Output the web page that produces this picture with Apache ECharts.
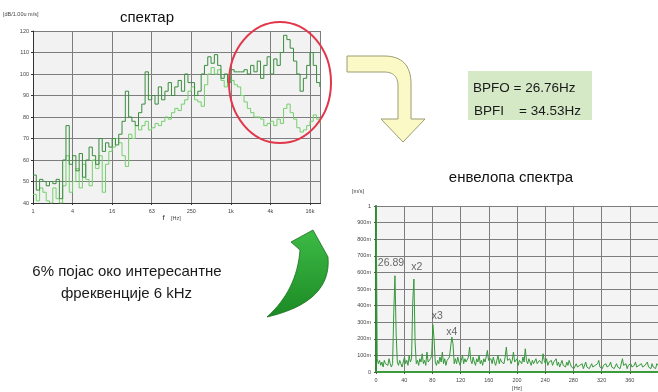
<!DOCTYPE html>
<html>
<head>
<meta charset="utf-8">
<script src="https://cdn.jsdelivr.net/npm/echarts@6/dist/echarts.min.js"></script>
<style>
  html, body { margin: 0; padding: 0; background: #ffffff; }
  #c { width: 658px; height: 392px; }
</style>
</head>
<body>
<div id="c"></div>
<script>
// ---- Spectrum (1/6-octave bands from 1 Hz), level in dB re 1 µm/s ----
const bandsPerOctave = 6;
const spectrumDark = [
  53, 46, 51, 50, 48, 50, 49, 51, 42, 60, 76, 58,
  62, 55, 63, 52, 60, 66, 62, 58, 70, 64, 68, 66,
  70, 67, 72, 78, 92, 80, 78, 76, 82, 86, 101, 88,
  90, 86, 94, 88, 92, 96, 90, 94, 97, 92, 100, 96,
  96, 90, 92, 100, 104, 108, 105, 109, 104, 98, 100, 96,
  102, 101, 101, 101, 102, 100, 104, 101, 106, 98, 104, 108,
  100, 107, 104, 110, 118, 116, 112, 106, 100, 92, 98, 104, 110, 104, 96, 94
];
const spectrumLight = [
  44, 41, 47, 45, 41, 40, 47, 42, 40, 48, 62, 45,
  50, 56, 47, 58, 51, 48, 60, 56, 62, 45, 58, 64,
  66, 70, 68, 62, 57, 72, 70, 76, 74, 76, 78, 74,
  75, 77, 76, 78, 80, 79, 82, 84, 83, 86, 88, 92,
  94, 88, 87, 85, 95, 100, 103, 100, 102, 97, 94, 98,
  97, 95, 94, 90, 87, 84, 82, 80, 80, 79, 76, 77,
  78, 76, 79, 77, 84, 86, 82, 79, 75, 73, 74, 76, 78, 81, 79, 77
];
const spectrumTickLabels = ['1', '4', '16', '63', '250', '1k', '4k', '16k'];

// ---- Envelope spectrum, amplitude in m/s, bins of 26.89/16 Hz ----
const envelopeResolution = 26.89 / 16;
const envelopeValues = [
  1.2,
  0.08, 0.05, 0.07, 0.04, 0.06, 0.03, 0.07, 0.05, 0.06, 0.04, 0.08, 0.05, 0.03, 0.05,
  0.36, 0.58, 0.23, 0.06,
  0.04, 0.07, 0.05, 0.03, 0.06, 0.09, 0.05, 0.07, 0.04, 0.10, 0.06, 0.08,
  0.42, 0.56, 0.18, 0.05,
  0.07, 0.04, 0.08, 0.06, 0.11, 0.05, 0.07, 0.04, 0.12, 0.06, 0.05, 0.08,
  0.10, 0.285, 0.20, 0.06,
  0.04, 0.07, 0.05, 0.09, 0.06, 0.12, 0.05, 0.08, 0.04, 0.07, 0.06, 0.09,
  0.08, 0.21, 0.17, 0.05,
  0.08, 0.05, 0.09, 0.06, 0.04, 0.07, 0.10, 0.05, 0.08, 0.06, 0.07, 0.09, 0.15, 0.07,
  0.05, 0.09, 0.06, 0.04, 0.08, 0.06, 0.10, 0.05, 0.07, 0.04, 0.08, 0.06, 0.09, 0.13, 0.07,
  0.06, 0.08, 0.05, 0.09, 0.06, 0.04, 0.07, 0.10, 0.05, 0.08, 0.06, 0.07, 0.05, 0.09, 0.15, 0.07, 0.06,
  0.08, 0.05, 0.07, 0.12, 0.06, 0.05, 0.08, 0.04, 0.07, 0.06, 0.05, 0.09, 0.06, 0.14,
  0.07, 0.05, 0.08, 0.06, 0.04, 0.07, 0.05, 0.06, 0.08, 0.05, 0.04, 0.07, 0.06, 0.05, 0.11, 0.07, 0.05, 0.08, 0.04,
  0.06, 0.05, 0.07, 0.04, 0.06, 0.05, 0.08, 0.04, 0.06, 0.03, 0.05, 0.07, 0.04, 0.05, 0.03, 0.06, 0.04, 0.07, 0.05, 0.03,
  0.04, 0.02, 0.03, 0.05, 0.03, 0.02, 0.04, 0.03, 0.05, 0.02, 0.03, 0.06, 0.03, 0.04, 0.02, 0.03, 0.05, 0.03, 0.02, 0.04,
  0.03, 0.05, 0.07, 0.03, 0.04, 0.02, 0.04, 0.03, 0.05, 0.03, 0.02, 0.04, 0.06, 0.03, 0.04, 0.02, 0.03, 0.05, 0.03, 0.04,
  0.02, 0.03, 0.08, 0.04, 0.03, 0.05, 0.02, 0.04, 0.03, 0.05, 0.03, 0.02, 0.04, 0.06, 0.03, 0.02, 0.04, 0.03, 0.05, 0.03,
  0.02, 0.04, 0.03, 0.06, 0.03, 0.04, 0.02, 0.05, 0.03, 0.04, 0.02, 0.05, 0.04
];
const envelopeTickLabels = ['0', '100m', '200m', '300m', '400m', '500m', '600m', '700m', '800m', '900m', '1'];
const harmonicFreqs = [26.89, 53.78, 80.67, 107.56];
const harmonicLabels = ['26.89', 'x2', 'x3', 'x4'];

const FONT = "'Liberation Sans', Arial, sans-serif";

const darkPts = spectrumDark.map((v, k) => [Math.pow(2, k / bandsPerOctave), v]);
const lightPts = spectrumLight.map((v, k) => [Math.pow(2, k / bandsPerOctave), v]);
const envPts = envelopeValues.map((v, i) => [i * envelopeResolution, v]);
const labelOffsets = [[-4, -7], [3, -6], [4.5, -3], [0, 0]];
const harmonicPts = harmonicFreqs.map((f, j) => ({
  name: harmonicLabels[j],
  value: [f, envelopeValues[Math.round(f / envelopeResolution)]],
  label: { offset: labelOffsets[j] }
}));

// Outline builder for the decorative arrows: straight segments and
// quadratic curves flattened into polygon points.
function outline(cmds) {
  const pts = [];
  let cur = null;
  cmds.forEach(c => {
    if (c.length === 2) { pts.push(c); cur = c; }
    else {
      const [cx, cy, x, y] = c;
      for (let i = 1; i <= 16; i++) {
        const t = i / 16, u = 1 - t;
        pts.push([u * u * cur[0] + 2 * u * t * cx + t * t * x,
                  u * u * cur[1] + 2 * u * t * cy + t * t * y]);
      }
      cur = [x, y];
    }
  });
  return pts;
}
const yellowArrow = outline([
  [347, 56], [384, 56], [411, 56, 411, 84], [411, 119], [425, 119], [403, 142],
  [381, 119], [398, 119], [398, 86], [398, 72, 384, 72], [347, 72]
]);
const greenArrow = outline([
  [313, 230], [328, 257], [332, 302, 267, 317], [297, 290, 300, 250], [291, 242]
]);

const tinyLabel = { fontSize: 5.5, color: '#444', fontFamily: FONT };
const gridLine = { show: true, lineStyle: { color: '#7d7d7d', width: 1 } };

const chart = echarts.init(document.getElementById('c'), null, { renderer: 'canvas' });

function txt(x, y, text, size, color, align) {
  return {
    type: 'text', x: x, y: y, z: 50,
    style: {
      text: text, font: size + 'px ' + FONT, fill: color,
      textAlign: align, textVerticalAlign: 'middle'
    }
  };
}

const option = {
  animation: false,
  backgroundColor: '#ffffff',
  grid: [
    { left: 33, top: 31, width: 287.5, height: 172, show: true, backgroundColor: '#f2f2f2', borderWidth: 0 },
    { left: 376, top: 206, width: 285, height: 166, show: true, backgroundColor: '#f4f4f4', borderWidth: 0 }
  ],
  xAxis: [
    {
      gridIndex: 0, type: 'log', logBase: 4, min: 1, max: 23700,
      axisLine: { lineStyle: { color: '#333', width: 1 } },
      axisTick: { show: true, length: 2, lineStyle: { color: '#333' } },
      axisLabel: Object.assign({}, tinyLabel, {
        margin: 5, showMaxLabel: false,
        formatter: v => spectrumTickLabels[Math.round(Math.log(v) / Math.log(4))] || ''
      }),
      splitLine: gridLine
    },
    {
      gridIndex: 1, type: 'value', min: 0, max: 400, interval: 40,
      axisLine: { lineStyle: { color: '#3c9c3c', width: 2 } },
      axisTick: { show: true, length: 2, lineStyle: { color: '#555' } },
      axisLabel: Object.assign({}, tinyLabel, { margin: 5, showMaxLabel: false }),
      splitLine: gridLine
    }
  ],
  yAxis: [
    {
      gridIndex: 0, type: 'value', min: 40, max: 120, interval: 10,
      axisLine: { show: true, lineStyle: { color: '#333', width: 1 } },
      axisTick: { show: true, length: 2, lineStyle: { color: '#333' } },
      axisLabel: Object.assign({}, tinyLabel, { margin: 4 }),
      splitLine: gridLine
    },
    {
      gridIndex: 1, type: 'value', min: 0, max: 1, interval: 0.1,
      axisLine: { show: true, lineStyle: { color: '#2f8a35', width: 2 } },
      axisTick: { show: true, length: 2, lineStyle: { color: '#555' } },
      axisLabel: Object.assign({}, tinyLabel, {
        margin: 5,
        formatter: v => envelopeTickLabels[Math.round(v * 10)]
      }),
      splitLine: gridLine
    }
  ],
  series: [
    {
      type: 'line', xAxisIndex: 0, yAxisIndex: 0, step: 'end', data: lightPts,
      symbol: 'none', clip: true,
      lineStyle: { color: '#74d06c', width: 1 }
    },
    {
      type: 'line', xAxisIndex: 0, yAxisIndex: 0, step: 'end', data: darkPts,
      symbol: 'none', clip: true,
      lineStyle: { color: '#3a8c3e', width: 1 }
    },
    {
      type: 'line', xAxisIndex: 1, yAxisIndex: 1, data: envPts,
      symbol: 'none', clip: true,
      lineStyle: { color: '#35983a', width: 1 }
    },
    {
      type: 'scatter', xAxisIndex: 1, yAxisIndex: 1, data: harmonicPts,
      symbolSize: 0, silent: true,
      label: {
        show: true, position: 'top', distance: 0,
        formatter: p => p.name,
        fontSize: 10.5, color: '#444', fontFamily: FONT
      }
    }
  ],
  graphic: [
    // highlighted high-frequency region
    {
      type: 'ellipse', z: 60,
      shape: { cx: 280, cy: 82.5, rx: 51, ry: 60.5 },
      style: { fill: 'none', stroke: '#e2364a', lineWidth: 2 }
    },
    // bent arrow towards the envelope spectrum
    {
      type: 'polygon', z: 40,
      shape: { points: yellowArrow },
      style: { fill: '#fbf9c6', stroke: '#9c9c74', lineWidth: 1 }
    },
    // curved green arrow pointing back at the spectrum
    {
      type: 'polygon', z: 40,
      shape: { points: greenArrow },
      style: {
        fill: {
          type: 'linear', x: 0, y: 0, x2: 0, y2: 1,
          colorStops: [
            { offset: 0, color: '#3dbb46' },
            { offset: 1, color: '#1c8a24' }
          ]
        },
        stroke: '#1b6e1f', lineWidth: 0.8
      }
    },
    // bearing fault frequencies
    {
      type: 'rect', z: 40,
      shape: { x: 468, y: 71, width: 124, height: 49 },
      style: { fill: '#d5e9c7' }
    },
    txt(473, 88, 'BPFO = 26.76Hz', 13.5, '#1a1a1a', 'left'),
    txt(474, 111, 'BPFI    = 34.53Hz', 13.5, '#1a1a1a', 'left'),
    // titles and captions
    txt(147, 18, 'спектар', 15, '#111', 'center'),
    txt(511, 178, 'енвелопа спектра', 15, '#111', 'center'),
    txt(127, 272, '6% појас око интересантне', 15, '#1a1a1a', 'center'),
    txt(126.5, 294, 'фреквенције 6 kHz', 15, '#1a1a1a', 'center'),
    // axis units
    txt(3, 14, '[dB/1.00u m/s]', 5.5, '#444', 'left'),
    txt(163.5, 218, 'f', 8, '#333', 'center'),
    txt(171, 218.5, '[Hz]', 5.5, '#444', 'left'),
    txt(352, 191, '[m/s]', 5.5, '#444', 'left'),
    txt(517, 388, '[Hz]', 5.5, '#444', 'center')
  ]
};

chart.setOption(option);
</script>
</body>
</html>
